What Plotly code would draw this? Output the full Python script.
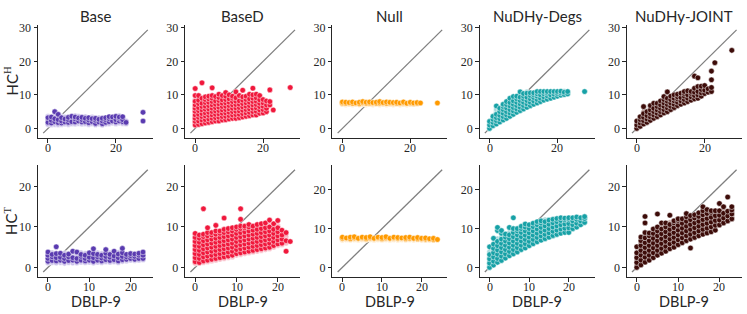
import plotly.graph_objects as go

# ---------------- data ----------------
PANEL_TITLES = ["Base", "BaseD", "Null", "NuDHy-Degs", "NuDHy-JOINT"]
ROW_LABELS = ["HC<sup><span style='font-family:Liberation Serif'>H</span></sup>",
              "HC<sup><span style='font-family:Liberation Serif'>T</span></sup>"]
X_LABEL = "DBLP-9"
X_TICKS_TOP = [0, 20]
X_TICKS_BOT = [0, 10, 20]
Y_TICKS_TOP = [0, 10, 20, 30]
Y_TICKS_BOT = [0, 10, 20]

DARK_COLORS = ["#5a3bb0", "#f0183c", "#ff9a00", "#17a1a6", "#3d0c09"]
LIGHT_COLORS = ["#cbc1ea", "#f9bac6", "#fed9a6", "#a6dadc", "#c4a6a2"]

X_TOP = [0, 1, 2, 3, 4, 5, 6, 7, 8, 9, 10, 11, 12, 13, 14, 15, 16, 17, 18, 19, 20, 21, 22, 23, 28]
X_BOT23 = [0, 1, 2, 3, 4, 5, 6, 7, 8, 9, 10, 11, 12, 13, 14, 15, 16, 17, 18, 19, 20, 21, 22, 23]
X_BOT24 = [0, 1, 2, 3, 4, 5, 6, 7, 8, 9, 10, 11, 12, 13, 14, 15, 16, 17, 18, 19, 20, 21, 22, 23, 24]

# ---- top row (HC^H) ----
BASE_H_DARK = [[1.8, 3.2], [1.6, 2.4, 3.4], [2.0, 2.9, 5.0], [1.7, 2.6, 4.2], [1.6, 2.2, 3.2],
               [1.9, 2.8], [1.8, 2.6, 3.3], [2.0, 3.6], [1.9, 2.8, 3.4], [2.2, 3.1],
               [1.9, 2.6, 3.3], [2.0, 3.0], [1.7, 2.5, 3.2], [2.0, 2.9], [1.5, 2.4, 3.0],
               [1.9, 2.7], [1.4, 2.2, 3.0], [1.8, 2.6, 3.2], [2.0, 2.9, 3.5], [2.2, 3.4],
               [1.9, 2.6, 3.6], [2.2, 3.0, 3.4], [2.0, 2.6, 3.5], [1.8], [2.2, 4.8]]
BASE_H_LIGHT = [[1.2, 2.4, 2.8, 3.6], [1.1, 1.9, 2.9], [1.2, 2.4, 3.4], [1.1, 2.0, 3.3], [1.2, 2.8, 3.6],
                [1.3, 2.4, 3.4], [1.2, 2.2, 3.0], [1.4, 2.6, 3.0], [1.3, 2.3, 3.8], [1.5, 2.6, 3.6],
                [1.3, 2.2, 3.0], [1.4, 2.5, 3.5], [1.2, 2.1, 2.9], [1.4, 2.4, 3.4], [1.1, 2.0, 2.7],
                [1.3, 2.3, 3.2], [1.0, 1.8, 2.6], [1.3, 2.2, 3.0], [1.4, 2.5, 3.2], [1.6, 2.8, 3.0],
                [1.4, 2.2, 3.1], [1.6, 2.6, 3.8], [1.5, 2.3, 3.0], [1.4, 2.2], []]

BASED_H_DARK = [[1.0, 2.1, 3.0, 4.0, 5.1, 6.0, 7.0, 8.1, 9.8, 11.9],
                [1.2, 2.2, 3.3, 4.2, 5.3, 6.2, 7.4, 8.4, 9.8],
                [1.4, 2.5, 3.5, 4.4, 5.5, 6.5, 7.5, 9.0, 13.6],
                [1.6, 2.6, 3.7, 4.6, 5.7, 6.6, 7.7, 8.6, 9.4],
                [1.8, 2.8, 3.9, 4.8, 5.8, 6.8, 7.8, 8.8, 9.6],
                [2.0, 3.0, 4.0, 5.0, 6.0, 7.0, 8.0, 9.0, 9.8, 12.1],
                [2.2, 3.2, 4.2, 5.2, 6.2, 7.2, 8.2, 9.5],
                [2.2, 3.3, 4.3, 5.3, 6.3, 7.3, 8.3, 9.2, 10.2],
                [2.5, 3.5, 4.5, 5.5, 6.5, 7.5, 8.5, 9.8],
                [2.6, 3.6, 4.6, 5.6, 6.6, 7.6, 8.6, 9.6, 10.7],
                [2.8, 3.8, 4.8, 5.8, 6.8, 7.8, 8.8, 10.0],
                [3.0, 4.0, 5.0, 6.0, 7.0, 8.0, 9.0, 9.6],
                [3.0, 4.1, 5.1, 6.1, 7.1, 8.1, 9.1, 10.9],
                [3.2, 4.2, 5.2, 6.2, 7.2, 8.2, 9.8],
                [3.4, 4.4, 5.4, 6.4, 7.4, 8.4, 9.4, 11.4],
                [3.6, 4.6, 5.6, 6.6, 7.6, 8.6, 9.6],
                [3.8, 4.8, 5.8, 6.8, 7.8, 8.8, 10.2],
                [4.0, 5.0, 6.0, 7.0, 8.0, 9.0, 10.0, 12.0],
                [4.0, 5.1, 6.1, 7.1, 8.1, 9.1, 10.2],
                [4.5, 5.5, 6.5, 7.5, 8.5, 9.8],
                [4.6, 5.6, 6.6, 7.6, 8.6],
                [5.0, 6.0, 7.0, 8.2],
                [7.0, 8.0, 11.5],
                [5.5],
                [12.2]]
BASED_H_LIGHT = [[1.5, 2.5, 3.5, 4.5, 5.5, 6.5, 7.5, 8.6], [1.7, 2.7, 3.7, 4.7, 5.7, 6.7, 7.9],
                 [1.9, 2.9, 3.9, 4.9, 5.9, 6.9, 8.0], [2.1, 3.1, 4.1, 5.1, 6.1, 7.1, 8.1],
                 [2.3, 3.3, 4.3, 5.3, 6.3, 7.3, 8.3], [2.5, 3.5, 4.5, 5.5, 6.5, 7.5, 8.5],
                 [2.7, 3.7, 4.7, 5.7, 6.7, 7.7, 8.7], [2.7, 3.8, 4.8, 5.8, 6.8, 7.8, 8.8],
                 [3.0, 4.0, 5.0, 6.0, 7.0, 8.0, 9.0], [3.1, 4.1, 5.1, 6.1, 7.1, 8.1, 9.1],
                 [3.3, 4.3, 5.3, 6.3, 7.3, 8.3, 9.3], [3.5, 4.5, 5.5, 6.5, 7.5, 8.5],
                 [3.5, 4.6, 5.6, 6.6, 7.6, 8.6, 9.6], [3.7, 4.7, 5.7, 6.7, 7.7, 8.7, 9.2],
                 [3.9, 4.9, 5.9, 6.9, 7.9, 8.9], [4.1, 5.1, 6.1, 7.1, 8.1, 9.1],
                 [4.3, 5.3, 6.3, 7.3, 8.3, 9.3], [4.5, 5.5, 6.5, 7.5, 8.5, 9.5],
                 [4.5, 5.6, 6.6, 7.6, 8.6, 9.6], [5.0, 6.0, 7.0, 8.0, 9.0],
                 [5.1, 6.1, 7.1, 8.1], [5.5, 6.5, 7.5], [7.5], [], []]

NULL_H_DARK = [[7.6, 7.9], [7.5, 7.8], [7.7], [7.5, 7.9], [7.6], [7.4, 7.8], [7.7, 8.0], [7.5, 7.8],
               [7.6, 7.9], [7.7], [7.5, 7.8], [7.6, 8.0], [7.7], [7.5, 7.9], [7.6, 7.8], [7.7],
               [7.5, 7.8], [7.6], [7.7, 7.9], [7.5], [7.6, 7.8], [7.6], [7.5, 7.7], [7.6], [7.6]]
NULL_H_LIGHT = [[7.2, 7.4], [7.1, 7.3], [7.2, 7.4], [7.1, 7.3], [7.2, 7.4], [7.1, 7.3], [7.2, 7.4],
                [7.1, 7.3], [7.2, 7.4], [7.1, 7.3], [7.2, 7.4], [7.1, 7.3], [7.2, 7.4], [7.1, 7.3],
                [7.2, 7.4], [7.1, 7.3], [7.2, 7.4], [7.1, 7.3], [7.2, 7.4], [7.1, 7.3], [7.2, 7.4],
                [7.2], [7.3], [], []]

DEGS_H_DARK = [[0.0, 1.0, 2.1], [0.8, 1.8, 2.7, 3.6], [1.3, 2.3, 3.2, 4.2, 6.7], [1.9, 2.9, 3.9, 5.0, 6.0],
               [2.5, 3.5, 4.5, 5.6, 6.5, 7.2], [3.0, 4.0, 5.0, 6.1, 7.1, 8.0], [3.6, 4.6, 5.6, 6.7, 7.7, 9.0],
               [4.2, 5.2, 6.2, 7.2, 8.2, 9.5], [4.8, 5.8, 6.8, 7.8, 8.8, 9.6], [5.3, 6.3, 7.3, 8.3, 9.3, 10.9],
               [5.8, 6.8, 7.8, 8.8, 9.6, 10.4], [6.3, 7.3, 8.3, 9.3, 10.5], [6.8, 7.8, 8.8, 9.8, 10.6],
               [7.2, 8.2, 9.2, 10.0, 10.6], [7.6, 8.6, 9.6, 10.3, 11.0], [8.0, 9.0, 10.0, 11.0],
               [8.4, 9.4, 10.3, 11.0], [8.7, 9.7, 10.5, 11.0], [9.0, 10.0, 11.0], [9.3, 10.2, 11.0],
               [9.6, 10.4, 11.0], [9.9, 10.6, 11.1], [10.1, 10.8], [10.3, 11.0], [11.0]]
DEGS_H_LIGHT = [[0.5, 1.5], [1.3, 2.2, 3.1], [1.8, 2.7, 3.7, 4.8, 5.6], [2.4, 3.4, 4.4, 5.5],
                [3.0, 4.0, 5.0, 6.0, 6.9], [3.5, 4.5, 5.5, 6.6, 7.5], [4.1, 5.1, 6.1, 7.2, 8.2, 8.8],
                [4.7, 5.7, 6.7, 7.7, 8.7, 9.2], [5.2, 6.3, 7.3, 8.3, 9.2], [5.8, 6.8, 7.8, 8.8, 9.8],
                [6.3, 7.3, 8.3, 9.2, 10.0], [6.8, 7.8, 8.8, 9.8, 10.9], [7.3, 8.3, 9.3, 10.2],
                [7.7, 8.7, 9.6, 10.3], [8.1, 9.1, 9.9, 10.6], [8.5, 9.5, 10.5], [8.9, 9.8, 10.7],
                [9.2, 10.1, 10.8], [9.5, 10.5], [9.8, 10.6], [10.0, 10.7], [10.3, 10.9],
                [10.5, 11.1], [10.6], []]

JOINT_H_DARK = [[0.0, 1.0, 2.2], [0.6, 1.6, 2.6, 3.5], [1.3, 2.3, 3.3, 4.4, 6.5], [1.8, 2.8, 3.8, 5.0],
                [2.4, 3.4, 4.4, 5.5, 6.8], [3.0, 4.0, 5.0, 6.0, 7.5], [3.5, 4.5, 5.5, 6.5, 7.5],
                [4.0, 5.0, 6.0, 7.0, 8.2], [4.6, 5.6, 6.6, 7.6, 8.6, 9.5], [5.0, 6.1, 7.1, 8.1, 9.0, 10.9],
                [5.6, 6.6, 7.6, 8.6, 9.6], [6.2, 7.2, 8.2, 9.0, 10.0], [6.8, 7.8, 8.8, 9.4, 10.2],
                [7.2, 8.2, 9.2, 10.5], [7.6, 8.6, 9.6, 10.4, 11.0], [8.0, 9.0, 10.0, 11.2],
                [8.4, 9.4, 10.4, 11.0], [8.8, 9.8, 10.8, 12.0, 15.6], [9.0, 10.0, 11.0, 12.5, 15.1],
                [9.6, 10.6, 11.6, 12.6], [10.4, 11.4, 12.8], [10.8, 11.8], [11.0, 12.2, 14.5, 17.1],
                [19.6], [23.3]]
JOINT_H_LIGHT = [[0.5, 1.5], [1.1, 2.1, 3.0], [1.8, 2.8, 3.8, 4.9], [2.3, 3.3, 4.3], [2.9, 3.9, 4.9, 6.0],
                 [3.5, 4.5, 5.5, 6.6], [4.0, 5.0, 6.0, 7.0], [4.5, 5.5, 6.5, 7.5], [5.1, 6.1, 7.1, 8.1],
                 [5.6, 6.6, 7.6, 8.6], [6.1, 7.1, 8.1, 9.1], [6.7, 7.7, 8.6, 9.5], [7.3, 8.3, 9.0],
                 [7.7, 8.7, 9.7], [8.1, 9.1, 10.0], [8.5, 9.5, 10.5], [8.9, 9.9, 10.8],
                 [9.3, 10.3, 11.4], [9.5, 10.5, 11.6], [10.1, 11.1], [10.9, 11.9], [11.3], [11.6], [], []]

# ---- bottom row (HC^T) ----
BASE_T_DARK = [[1.5, 2.2, 3.0, 3.8], [1.7, 2.6, 3.2], [1.6, 2.4, 3.4, 5.1], [1.8, 2.5, 3.5], [1.5, 2.2, 3.0],
               [1.7, 2.6, 3.3], [1.8, 2.4, 4.0], [1.5, 2.2, 3.8], [1.8, 2.7, 3.2], [1.6, 2.2, 3.0],
               [1.8, 2.5, 3.6], [1.5, 2.4, 3.4, 4.6], [1.8, 2.6, 3.2], [1.6, 2.3, 3.0], [1.9, 2.7, 3.5, 4.4],
               [1.7, 2.5, 3.2], [1.9, 2.8, 4.0], [1.6, 2.4, 3.3], [1.9, 2.7, 3.6, 4.7], [2.0, 2.6, 3.2],
               [2.2, 2.9, 3.4], [2.0, 2.7, 3.3], [2.2, 3.0, 3.5], [2.2, 3.0, 3.8]]
BASE_T_LIGHT = [[1.1, 1.9, 2.6, 3.4], [1.2, 2.1, 2.9, 3.6], [1.1, 2.0, 2.8], [1.2, 2.1, 3.0],
                [1.0, 1.9, 2.6, 3.5], [1.2, 2.1, 3.0], [1.1, 2.0, 2.9, 3.4], [1.1, 1.9, 2.6, 3.2],
                [1.3, 2.2, 3.6], [1.2, 2.6, 3.4], [1.3, 2.1, 3.0], [1.1, 1.9, 2.9], [1.3, 2.2, 3.6],
                [1.2, 2.7, 3.4], [1.4, 2.3, 3.1], [1.3, 2.1, 2.9, 3.6], [1.4, 2.3, 3.3],
                [1.2, 2.0, 2.8, 3.7], [1.5, 2.3, 3.1], [1.6, 2.3, 2.9], [1.8, 2.5, 3.2],
                [1.7, 2.4, 3.0], [1.8, 2.6], [1.9, 2.6]]

BASED_T_DARK = [[1.4, 2.4, 3.4, 4.4, 5.4, 6.4, 7.4, 8.4], [1.2, 2.2, 3.2, 4.2, 5.2, 6.2, 7.2, 8.0],
                [1.6, 2.6, 3.6, 4.6, 5.6, 6.6, 7.6, 8.2, 14.5], [1.8, 2.8, 3.8, 4.8, 5.8, 6.8, 7.8, 8.6, 9.8],
                [2.0, 3.0, 4.0, 5.0, 6.0, 7.0, 8.0, 8.6], [2.2, 3.2, 4.2, 5.2, 6.2, 7.2, 8.2, 9.0, 10.4],
                [2.4, 3.4, 4.4, 5.4, 6.4, 7.4, 8.4, 9.0], [2.6, 3.6, 4.6, 5.6, 6.6, 7.6, 8.6, 9.4, 12.2],
                [2.8, 3.8, 4.8, 5.8, 6.8, 7.8, 8.8, 9.6], [3.0, 4.0, 5.0, 6.0, 7.0, 8.0, 9.0, 9.8],
                [3.4, 4.4, 5.4, 6.4, 7.4, 8.4, 9.4, 10.0],
                [3.6, 4.6, 5.6, 6.6, 7.6, 8.6, 9.6, 10.2, 11.9, 14.5],
                [3.8, 4.8, 5.8, 6.8, 7.8, 8.8, 9.8, 10.2], [4.0, 5.0, 6.0, 7.0, 8.0, 9.0, 10.0, 10.6],
                [4.2, 5.2, 6.2, 7.2, 8.2, 9.2, 10.2], [4.4, 5.4, 6.4, 7.4, 8.4, 9.4, 10.6],
                [4.6, 5.6, 6.6, 7.6, 8.6, 9.6, 10.8], [4.8, 5.8, 6.8, 7.8, 8.8, 9.8, 11.0],
                [5.0, 6.0, 7.0, 8.0, 9.0, 10.0, 11.7], [5.4, 6.4, 7.4, 8.4, 9.4, 10.8],
                [5.8, 6.8, 7.8, 8.8, 9.8, 11.6], [6.0, 7.0, 8.0, 9.2], [4.0, 6.6, 8.6], [6.4]]
BASED_T_LIGHT = [[1.0, 1.9, 2.9, 3.9, 4.9, 5.9, 6.9, 7.9], [1.0, 1.7, 2.7, 3.7, 4.7, 5.7, 6.7, 7.6],
                 [1.2, 2.1, 3.1, 4.1, 5.1, 6.1, 7.1], [1.4, 2.3, 3.3, 4.3, 5.3, 6.3, 7.3, 8.2],
                 [1.6, 2.5, 3.5, 4.5, 5.5, 6.5, 7.5], [1.8, 2.7, 3.7, 4.7, 5.7, 6.7, 7.7, 8.6],
                 [2.0, 2.9, 3.9, 4.9, 5.9, 6.9, 7.9, 8.7], [2.2, 3.1, 4.1, 5.1, 6.1, 7.1, 8.1, 9.0],
                 [2.4, 3.3, 4.3, 5.3, 6.3, 7.3, 8.3, 9.2], [2.6, 3.5, 4.5, 5.5, 6.5, 7.5, 8.5, 9.4],
                 [3.0, 3.9, 4.9, 5.9, 6.9, 7.9, 8.9, 9.7], [3.2, 4.1, 5.1, 6.1, 7.1, 8.1, 9.1],
                 [3.4, 4.3, 5.3, 6.3, 7.3, 8.3, 9.3], [3.6, 4.5, 5.5, 6.5, 7.5, 8.5, 9.5],
                 [3.8, 4.7, 5.7, 6.7, 7.7, 8.7, 9.7], [4.0, 4.9, 5.9, 6.9, 7.9, 8.9, 9.9],
                 [4.2, 5.1, 6.1, 7.1, 8.1, 9.1, 10.1], [4.4, 5.3, 6.3, 7.3, 8.3, 9.3, 10.3],
                 [4.6, 5.5, 6.5, 7.5, 8.5, 9.5, 10.6], [5.0, 5.9, 6.9, 7.9, 8.9, 9.9],
                 [5.4, 6.3, 7.3, 8.3, 9.3, 10.3], [5.6, 6.5, 7.5, 8.5], [6.0, 7.6], []]

NULL_T_DARK = [[7.5, 7.8], [7.6], [7.4, 7.8], [7.6, 7.9], [7.5], [7.6, 7.8], [7.4, 7.7], [7.6, 7.9],
               [7.5], [7.6, 7.8], [7.4, 7.7], [7.6, 7.9], [7.5], [7.6, 7.8], [7.5, 7.7], [7.6],
               [7.4, 7.7], [7.5, 7.8], [7.5], [7.4, 7.7], [7.5], [7.3, 7.6], [7.4], [7.2, 7.5], [7.2]]
NULL_T_LIGHT = [[7.1, 7.3], [7.2, 7.4], [7.1, 7.3], [7.2, 7.4], [7.1, 7.3], [7.2, 7.4], [7.1, 7.3],
                [7.2, 7.4], [7.1, 7.3], [7.2, 7.4], [7.1, 7.3], [7.2, 7.4], [7.1, 7.3], [7.2, 7.4],
                [7.1, 7.3], [7.2, 7.4], [7.1, 7.3], [7.2, 7.4], [7.1, 7.3], [7.2], [7.1], [7.0],
                [7.1], [7.0], []]

DEGS_T_DARK = [[0.0, 1.1, 2.2, 3.3, 5.3], [0.6, 1.6, 2.7, 3.8, 4.9, 6.0, 7.5],
               [1.3, 2.3, 3.4, 4.5, 5.6, 6.7, 9.5, 10.3], [1.8, 2.9, 4.0, 5.1, 6.2, 7.3, 8.8, 9.5],
               [2.4, 3.5, 4.6, 5.7, 6.8, 7.8, 8.6], [3.0, 4.1, 5.2, 6.3, 7.4, 8.4, 10.3],
               [3.5, 4.6, 5.7, 6.8, 7.9, 9.0, 10.0, 12.8], [4.0, 5.1, 6.2, 7.3, 8.4, 9.4, 10.0],
               [4.6, 5.7, 6.8, 7.9, 9.0, 10.0, 10.6], [5.0, 6.1, 7.2, 8.3, 9.4, 10.4, 11.2],
               [5.6, 6.7, 7.8, 8.9, 10.0, 11.0], [6.1, 7.2, 8.3, 9.4, 10.5, 11.4],
               [6.6, 7.7, 8.8, 9.9, 11.0, 11.8], [7.0, 8.1, 9.2, 10.3, 11.4, 12.0],
               [7.4, 8.5, 9.6, 10.7, 11.8], [7.8, 8.9, 10.0, 11.1, 12.2], [8.2, 9.3, 10.4, 11.5, 12.4],
               [8.5, 9.6, 10.7, 11.8, 12.6], [8.8, 9.9, 11.0, 12.1, 12.8], [9.0, 10.1, 11.2, 12.3, 12.7],
               [9.0, 10.2, 11.3, 12.4, 12.8], [10.0, 11.0, 12.0, 12.8], [10.4, 11.4, 12.4, 13.0],
               [11.0, 12.0, 12.8], [11.6, 12.6, 13.1]]
DEGS_T_LIGHT = [[0.5, 1.6, 2.7, 4.0], [1.1, 2.2, 3.3, 4.4, 5.5], [1.8, 2.9, 4.0, 5.1, 6.2, 7.4],
                [2.3, 3.4, 4.5, 5.6, 6.7, 7.8], [2.9, 4.0, 5.1, 6.2, 7.3], [3.5, 4.6, 5.7, 6.8, 7.9, 8.9],
                [4.0, 5.1, 6.2, 7.3, 8.4, 9.5], [4.5, 5.6, 6.7, 7.8, 8.9], [5.1, 6.2, 7.3, 8.4, 9.5],
                [5.5, 6.6, 7.7, 8.8, 9.9], [6.1, 7.2, 8.3, 9.4, 10.5], [6.6, 7.7, 8.8, 9.9, 11.0],
                [7.1, 8.2, 9.3, 10.4], [7.5, 8.6, 9.7, 10.8], [7.9, 9.0, 10.1, 11.2, 12.3],
                [8.3, 9.4, 10.5, 11.6], [8.7, 9.8, 10.9, 12.0], [9.0, 10.1, 11.2, 12.2],
                [9.3, 10.4, 11.5, 12.4], [9.5, 10.6, 11.7], [9.6, 10.7, 11.8], [10.5, 11.5, 12.4],
                [10.9, 11.9], [11.5, 12.4], [12.1]]

JOINT_T_DARK = [[0.0, 1.2, 2.4, 3.6, 5.1], [0.6, 1.8, 3.0, 4.2, 5.4, 6.6, 7.5],
                [1.3, 2.5, 3.7, 4.9, 6.1, 7.3, 8.6, 11.0, 12.6], [1.8, 3.0, 4.2, 5.4, 6.6, 7.8, 8.5],
                [2.4, 3.6, 4.8, 6.0, 7.2, 8.4, 9.5], [3.0, 4.2, 5.4, 6.6, 7.8, 9.0, 10.0, 13.2],
                [3.5, 4.7, 5.9, 7.1, 8.3, 9.5, 11.0], [4.0, 5.2, 6.4, 7.6, 8.8, 10.0, 11.0],
                [4.6, 5.8, 7.0, 8.2, 9.4, 10.6, 12.9], [5.0, 6.2, 7.4, 8.6, 9.8, 11.0, 11.5],
                [5.6, 6.8, 8.0, 9.2, 10.4, 11.6, 12.0], [6.1, 7.3, 8.5, 9.7, 10.9, 12.0],
                [6.6, 7.8, 9.0, 10.2, 11.4, 12.5, 13.3], [4.8, 7.0, 8.2, 9.4, 10.6, 11.8, 12.8],
                [7.4, 8.6, 9.8, 11.0, 12.2, 13.0], [7.8, 9.0, 10.2, 11.4, 12.6, 13.5],
                [8.2, 9.4, 10.6, 11.8, 13.0, 14.0, 15.0], [8.5, 9.7, 10.9, 12.1, 13.3, 14.3],
                [8.8, 10.0, 11.2, 12.4, 13.6, 14.0], [9.2, 10.4, 11.6, 12.8, 14.0],
                [10.5, 11.7, 12.9, 14.0, 15.8], [11.0, 12.2, 13.4, 15.0], [11.5, 12.7, 13.9, 17.4],
                [12.0, 13.2, 14.2, 15.0]]
JOINT_T_LIGHT = [[0.6, 1.8, 3.0], [1.2, 2.4, 3.6, 4.8, 6.0], [1.9, 3.1, 4.3, 5.5, 6.7, 7.9],
                 [2.4, 3.6, 4.8, 6.0, 7.2], [3.0, 4.2, 5.4, 6.6, 7.8, 9.0], [3.6, 4.8, 6.0, 7.2, 8.4, 9.5],
                 [4.1, 5.3, 6.5, 7.7, 8.9, 10.1], [4.6, 5.8, 7.0, 8.2, 9.4, 10.5],
                 [5.2, 6.4, 7.6, 8.8, 10.0, 11.1], [5.6, 6.8, 8.0, 9.2, 10.4], [6.2, 7.4, 8.6, 9.8, 11.0],
                 [6.7, 7.9, 9.1, 10.3, 11.5], [7.2, 8.4, 9.6, 10.8, 12.0], [7.6, 8.8, 10.0, 11.2, 12.3],
                 [8.0, 9.2, 10.4, 11.6, 12.6], [8.4, 9.6, 10.8, 12.0, 13.0], [8.8, 10.0, 11.2, 12.4, 13.5],
                 [9.1, 10.3, 11.5, 12.7, 13.8], [9.4, 10.6, 11.8, 13.0], [9.8, 11.0, 12.2, 13.4],
                 [11.1, 12.3, 13.5], [11.6, 12.8, 14.0], [12.1, 13.3], [12.6, 13.7]]

TOP_ROW = [(X_TOP, BASE_H_DARK, BASE_H_LIGHT), (X_TOP, BASED_H_DARK, BASED_H_LIGHT),
           (X_TOP, NULL_H_DARK, NULL_H_LIGHT), (X_TOP, DEGS_H_DARK, DEGS_H_LIGHT),
           (X_TOP, JOINT_H_DARK, JOINT_H_LIGHT)]
BOT_ROW = [(X_BOT23, BASE_T_DARK, BASE_T_LIGHT), (X_BOT23, BASED_T_DARK, BASED_T_LIGHT),
           (X_BOT24, NULL_T_DARK, NULL_T_LIGHT), (X_BOT24, DEGS_T_DARK, DEGS_T_LIGHT),
           (X_BOT23, JOINT_T_DARK, JOINT_T_LIGHT)]

# ---------------- layout geometry ----------------
W, H = 747, 314
LEFTS = [38.0, 185.2, 332.4, 479.6, 626.8]
PW = 115.0
ROW_TOP = [(21.0, 136.0), (162.7, 276.7)]


def flat(xs, cols):
    X, Y = [], []
    for x, ys in zip(xs, cols):
        for y in ys:
            X.append(x)
            Y.append(y)
    return X, Y


fig = go.Figure()
SERIF = "Liberation Serif"
SANS = "Lato"
annotations = []

for r, row in enumerate([TOP_ROW, BOT_ROW]):
    xticks = X_TICKS_TOP if r == 0 else X_TICKS_BOT
    yticks = Y_TICKS_TOP if r == 0 else Y_TICKS_BOT
    for c, (xs, dark, light) in enumerate(row):
        k = r * 5 + c + 1
        xa, ya = f"x{k}", f"y{k}"
        lx, ly = flat(xs, light)
        dx, dy = flat(xs, dark)
        allx, ally = lx + dx, ly + dy
        # matplotlib style autoscale: data lims with 5% margin, identity line across them
        x0, x1 = min(allx), max(allx)
        y0, y1 = min(ally), max(ally)
        xl0, xl1 = x0 - 0.05 * (x1 - x0), x1 + 0.05 * (x1 - x0)
        yl0, yl1 = y0 - 0.05 * (y1 - y0), y1 + 0.05 * (y1 - y0)
        lo, hi = min(xl0, yl0), max(xl1, yl1)
        pad = 0.05 * (hi - lo)
        rng = [lo - pad, hi + pad]

        fig.add_trace(go.Scatter(x=[lo, hi], y=[lo, hi], mode="lines",
                                 line=dict(color="#7f7f7f", width=1.3),
                                 xaxis=xa, yaxis=ya, showlegend=False, hoverinfo="skip"))
        fig.add_trace(go.Scatter(x=lx, y=ly, mode="markers",
                                 marker=dict(color=LIGHT_COLORS[c], size=5.6,
                                             line=dict(color="white", width=0.5)),
                                 xaxis=xa, yaxis=ya, showlegend=False))
        fig.add_trace(go.Scatter(x=dx, y=dy, mode="markers",
                                 marker=dict(color=DARK_COLORS[c], size=5.6,
                                             line=dict(color="white", width=0.5)),
                                 xaxis=xa, yaxis=ya, showlegend=False))

        top_px, bot_px = ROW_TOP[r]
        axis_common = dict(showline=True, linecolor="#262626", linewidth=1,
                           ticks="outside", ticklen=3.5, tickwidth=0.9, tickcolor="#262626",
                           showgrid=False, zeroline=False,
                           tickfont=dict(family=SERIF, size=12, color="#262626"),
                           range=rng, fixedrange=True)
        fig.update_layout(**{
            f"xaxis{k}": dict(domain=[LEFTS[c] / W, (LEFTS[c] + PW) / W], anchor=ya,
                              tickvals=xticks, showticklabels=False, **axis_common),
            f"yaxis{k}": dict(domain=[1 - bot_px / H, 1 - top_px / H], anchor=xa,
                              tickvals=yticks, **axis_common),
        })
        # x tick labels, placed just below the tick marks
        for v in xticks:
            annotations.append(dict(text=str(v), x=v, xref=xa, y=1 - (bot_px + 10) / H,
                                    yref="paper", xanchor="center", yanchor="middle",
                                    showarrow=False,
                                    font=dict(family=SERIF, size=12, color="#262626")))

for c, t in enumerate(PANEL_TITLES):
    cx = (LEFTS[c] + PW / 2) / W
    annotations.append(dict(text=t, x=cx, y=1 - 12.5 / H, xref="paper", yref="paper",
                            xanchor="center", yanchor="middle", showarrow=False,
                            font=dict(family=SANS, size=15, color="#262626")))
    annotations.append(dict(text=X_LABEL, x=cx, y=1 - 301.5 / H, xref="paper", yref="paper",
                            xanchor="center", yanchor="middle", showarrow=False,
                            font=dict(family=SANS, size=14.5, color="#262626")))
for r, lab in enumerate(ROW_LABELS):
    top_px, bot_px = ROW_TOP[r]
    annotations.append(dict(text=lab, x=11 / W, y=1 - ((top_px + bot_px) / 2) / H,
                            xref="paper", yref="paper", xanchor="center", yanchor="middle",
                            textangle=-90, showarrow=False,
                            font=dict(family=SANS, size=15, color="#262626")))

fig.update_layout(width=W, height=H, margin=dict(l=0, r=0, t=0, b=0),
                  paper_bgcolor="white", plot_bgcolor="white",
                  annotations=annotations, showlegend=False)

fig.write_html("out.html", config={"displayModeBar": False},
               post_script="document.body.style.margin='0px';")
